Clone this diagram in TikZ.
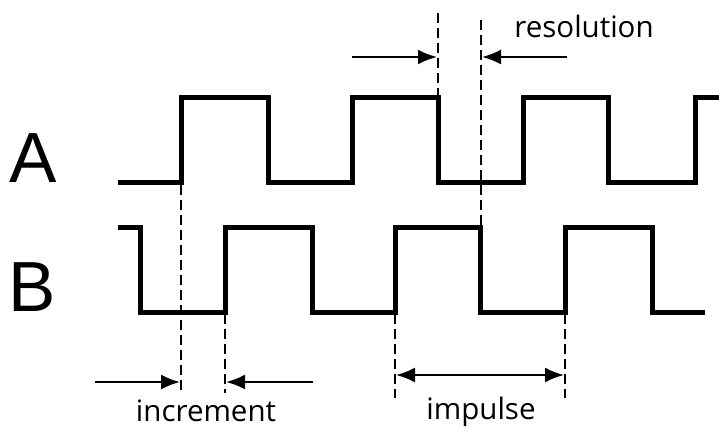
\documentclass[tikz,border=0pt]{standalone}
\usepackage{fontspec}
\setmainfont{Open Sans}
\newfontfamily\bigfont{Liberation Sans}
\usetikzlibrary{arrows.meta}
\begin{document}
\begin{tikzpicture}[x=1pt,y=-1pt,
  signal/.style={line width=5pt,line join=miter,line cap=butt},
  guide/.style={line width=2.2pt,dash pattern=on 10pt off 5pt},
  dimarrow/.style={line width=2.2pt,-{Latex[length=19pt,width=15pt]}},
  dimboth/.style={line width=2.2pt,{Latex[length=19pt,width=15pt]}-{Latex[length=19pt,width=15pt]}},
  biglabel/.style={font=\bigfont\fontsize{71}{71}\selectfont,inner sep=0pt},
  smalllabel/.style={font=\fontsize{29.5}{30}\selectfont,inner sep=0pt,anchor=base}]
\useasboundingbox (0,0) rectangle (719,430);
% labels
\node[biglabel] (lA) at (33,158) {A};
\node[biglabel] (lB) at (32,287) {B};
% signal A
\draw[signal] (118,183) -- (181,183) -- (181,98) -- (268,98) -- (268,183) -- (352,183) -- (352,98) -- (438,98) -- (438,183) -- (523,183) -- (523,98) -- (608,98) -- (608,183) -- (695,183) -- (695,98) -- (719,98);
% signal B
\draw[signal] (118,227) -- (140,227) -- (140,312) -- (225,312) -- (225,227) -- (312,227) -- (312,312) -- (395,312) -- (395,227) -- (480,227) -- (480,312) -- (565,312) -- (565,227) -- (652,227) -- (652,312) -- (705,312);
% guide coordinates
\coordinate (g1t) at (181,185); \coordinate (g1b) at (181,393);
\coordinate (g2t) at (225,314); \coordinate (g2b) at (225,393);
\coordinate (g3t) at (395,314); \coordinate (g3b) at (395,398);
\coordinate (g4t) at (565,314); \coordinate (g4b) at (565,398);
\coordinate (g5t) at (438,13);  \coordinate (g5b) at (438,96);
\coordinate (g6t) at (481,20);  \coordinate (g6b) at (481,225);
\draw[guide] (g1t) -- (g1b);
\draw[guide] (g2t) -- (g2b);
\draw[guide] (g3t) -- (g3b);
\draw[guide] (g4t) -- (g4b);
\draw[guide] (g5t) -- (g5b);
\draw[guide] (g6t) -- (g6b);
% resolution
\coordinate (r1) at (352,57); \coordinate (r1e) at (437,57);
\coordinate (r2) at (567,57); \coordinate (r2e) at (482,57);
\draw[dimarrow] (r1) -- (r1e);
\draw[dimarrow] (r2) -- (r2e);
\node[smalllabel] (res) at (584,38) {resolution};
% increment
\coordinate (i1) at (95,382); \coordinate (i1e) at (180,382);
\coordinate (i2) at (313,382); \coordinate (i2e) at (226,382);
\draw[dimarrow] (i1) -- (i1e);
\draw[dimarrow] (i2) -- (i2e);
\node[smalllabel] (inc) at (206,421) {increment};
% impulse
\coordinate (p1) at (396,375); \coordinate (p2) at (564,375);
\draw[dimboth] (p1) -- (p2);
\node[smalllabel] (imp) at (481,419) {impulse};
\end{tikzpicture}
\end{document}
